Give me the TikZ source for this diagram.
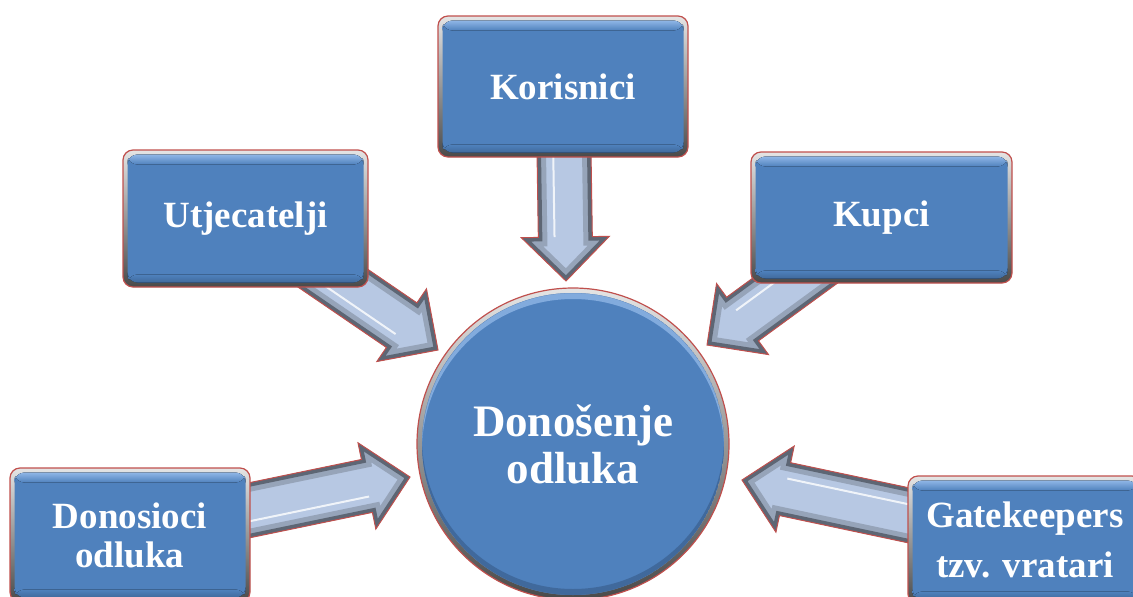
\documentclass[tikz,border=0pt]{standalone}
\usepackage{fontspec}
\setmainfont{Liberation Serif}
\usetikzlibrary{calc}
\pgfdeclarelayer{bg}
\pgfsetlayers{bg,main}
\definecolor{boxblue}{HTML}{4F81BD}
\definecolor{boxlight}{HTML}{8FB6E6}
\definecolor{boxdark}{HTML}{40699C}
\definecolor{framelight}{HTML}{E4E4E4}
\definecolor{framedark}{HTML}{4A4A4A}
\definecolor{edgered}{HTML}{C0504D}
\definecolor{arrowpale}{HTML}{B7C8E3}
\definecolor{arrowmid}{HTML}{7C8797}
\definecolor{arrowdark}{HTML}{454C57}
\tikzset{
  panel/.style={rectangle, rounded corners=10pt, inner sep=0pt,
    top color=framelight, bottom color=framedark,
    draw=edgered, line width=1.2pt, text=white, align=center,
    font=\bfseries\fontsize{37}{39}\selectfont,
    path picture={
      \path ([shift={(4.5pt,4.5pt)}]path picture bounding box.south west) coordinate (ppsw)
            ([shift={(-4.5pt,-4.5pt)}]path picture bounding box.north east) coordinate (ppne);
      \begin{scope}
        \clip[rounded corners=7pt] (ppsw) rectangle (ppne);
        \fill[boxblue] (ppsw) rectangle (ppne);
        \fill[top color=boxlight, bottom color=boxblue] (ppsw |- ppne) rectangle ([yshift=-10pt]ppne);
        \fill[top color=boxblue, bottom color=boxdark] (ppsw) rectangle ([yshift=8pt]ppsw -| ppne);
      \end{scope}
    }},
  hub/.style={circle, minimum size=312pt, inner sep=0pt,
    top color=framelight, bottom color=framedark,
    draw=edgered, line width=1.2pt, text=white, align=center,
    font=\bfseries\fontsize{45}{47}\selectfont,
    path picture={
      \coordinate (hc) at (path picture bounding box.center);
      \begin{scope}
        \clip (hc) circle (151pt);
        \fill[boxblue] (hc) circle (151pt);
        \fill[boxlight, opacity=0.8, even odd rule] (hc) circle (151pt) ([yshift=-6pt]hc) circle (151pt);
        \fill[boxdark, even odd rule] (hc) circle (151pt) ([yshift=6pt]hc) circle (151pt);
      \end{scope}
    }},
  arrowedge/.style={draw=edgered, line width=1pt, line join=miter}
}
\newcommand{\blockarrow}[2]{%
  \path ($(#2)!44pt!(#1)$) coordinate (hb)
    ($(#1)!27pt!90:(#2)$) coordinate (a1)
    ($(hb)!27pt!90:(#2)$) coordinate (a2)
    ($(hb)!44pt!90:(#2)$) coordinate (a3)
    ($(hb)!44pt!-90:(#2)$) coordinate (a5)
    ($(hb)!27pt!-90:(#2)$) coordinate (a6)
    ($(#1)!27pt!-90:(#2)$) coordinate (a7);
  \fill[arrowpale] (a1) -- (a2) -- (a3) -- (#2) -- (a5) -- (a6) -- (a7) -- cycle;
  \begin{scope}
    \clip (a1) -- (a2) -- (a3) -- (#2) -- (a5) -- (a6) -- (a7) -- cycle;
    \draw[arrowmid, opacity=0.55, line width=18pt, line join=miter] (a1) -- (a2) -- (a3) -- (#2) -- (a5) -- (a6) -- (a7) -- cycle;
    \draw[arrowdark, opacity=0.7, line width=8pt, line join=miter] (a1) -- (a2) -- (a3) -- (#2) -- (a5) -- (a6) -- (a7) -- cycle;
    \draw[white, opacity=0.8, line width=2pt] ($(a7)!0.3!(a1)$) -- ($(a6)!0.3!(a2)$);
  \end{scope}
  \draw[arrowedge] (a1) -- (a2) -- (a3) -- (#2) -- (a5) -- (a6) -- (a7) -- cycle;
}
\begin{document}
\begin{tikzpicture}[x=1pt,y=-1pt]
  \useasboundingbox (0,0) rectangle (1133,597);
  \clip (0,0) rectangle (1133,597);

  \node[panel, minimum width=250pt, minimum height=141pt] (kor) at (563,86.5) {Korisnici};
  \node[panel, minimum width=245pt, minimum height=137pt] (utj) at (245.5,218.5) {Utjecatelji};
  \node[panel, minimum width=261pt, minimum height=131pt] (kup) at (881.5,217.5) {Kupci};
  \node[panel, minimum width=240pt, minimum height=134pt] (don) at (130,535) {Donosioci\\odluka};
  \node[panel, minimum width=234pt, minimum height=128pt,
        font=\bfseries\fontsize{37}{50}\selectfont] (gat) at (1025,540) {Gatekeepers\\tzv. vratari};
  \node[hub] (hub) at (573,444) {Donošenje\\odluka};

  \coordinate (tK) at (566,281);
  \coordinate (tU) at (438,350);
  \coordinate (tKu) at (707,345);
  \coordinate (tD) at (410,477);
  \coordinate (tG) at (742,480);

  \begin{pgfonlayer}{bg}
    \blockarrow{kor}{tK}
    \blockarrow{utj}{tU}
    \blockarrow{kup}{tKu}
    \blockarrow{don}{tD}
    \blockarrow{gat}{tG}
  \end{pgfonlayer}
\end{tikzpicture}
\end{document}
